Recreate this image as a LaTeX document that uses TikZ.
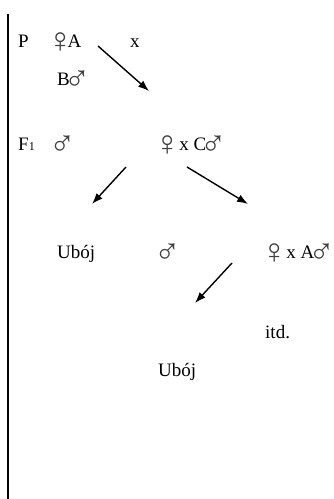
\documentclass[tikz,border=0pt]{standalone}
\usepackage{fontspec}
\setmainfont{Liberation Serif}
\usetikzlibrary{arrows.meta}
\colorlet{symcol}{black!75}
\newcommand\myfem{\kern-6pt\raisebox{-5pt}{\scalebox{1.85}{\textcolor{symcol}{♀}}}\kern-6pt}
\newcommand\mymal{\kern-6pt\raisebox{-5pt}{\scalebox{1.85}{\textcolor{symcol}{♂}}}\kern-6pt}
\begin{document}
\begin{tikzpicture}[x=1pt,y=-1pt,
  lbl/.style={anchor=base west,inner sep=0pt,font=\fontsize{19}{22}\selectfont},
  arr/.style={line width=1.4pt,-{Latex[length=11pt,width=8pt]}}]
\useasboundingbox (0,0) rectangle (334,499);
\draw[line width=1.4pt] (8,14) coordinate (ltop) -- (8,499) coordinate (lbot);
% row P
\node[lbl] (p) at (18,47) {P};
\node[lbl] (fa) at (53,47) {\myfem A};
\node[lbl] (x1) at (130,47) {x};
\node[lbl] (bm) at (57,85) {B\mymal};
\coordinate (a1s) at (98,46);
\coordinate (a1e) at (149,91);
\draw[arr] (a1s) -- (a1e);
% row F1
\node[lbl] (f1) at (18,150) {F{\fontsize{12}{12}\selectfont 1}};
\node[lbl] (m1) at (55,150) {\mymal};
\node[lbl] (fxc) at (160,150) {\myfem{} x C\mymal};
\coordinate (a2s) at (126,167);
\coordinate (a2e) at (92,204);
\coordinate (a3s) at (187,167);
\coordinate (a3e) at (248,204);
\draw[arr] (a2s) -- (a2e);
\draw[arr] (a3s) -- (a3e);
% row 3
\node[lbl] (u1) at (57,258) {Ubój};
\node[lbl] (m2) at (160,258) {\mymal};
\node[lbl] (fxa) at (267,258) {\myfem{} x A\mymal};
\coordinate (a4s) at (232,263);
\coordinate (a4e) at (195,303);
\draw[arr] (a4s) -- (a4e);
\node[lbl] (itd) at (265,338) {itd.};
\node[lbl] (u2) at (158,376) {Ubój};
\end{tikzpicture}
\end{document}
